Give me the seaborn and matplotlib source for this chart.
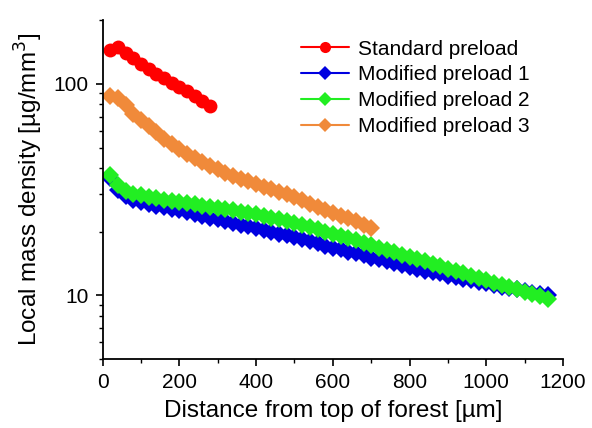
import numpy as np
import pandas as pd
import seaborn as sns
import matplotlib.pyplot as plt
from matplotlib.ticker import MultipleLocator, LogLocator, FuncFormatter, NullFormatter

# values (distance in um, density in ug/mm^3)
std_x = [20, 40, 60, 80, 100, 120, 140, 160, 180, 200, 220, 240, 260, 280]
std_y = [145, 149, 140, 132, 124, 117, 111, 106, 101, 96.5, 92, 87.5, 83, 78.5]

mod_x = list(range(20, 1161, 20))
mod1_y = [36.0, 31.6, 29.5, 28.2, 27.5, 27.0, 26.5, 26.1, 25.6, 25.2,
          24.7, 24.2, 23.8, 23.3, 22.9, 22.4, 22.0, 21.6, 21.2, 20.8,
          20.4, 20.0, 19.6, 19.2, 18.8, 18.4, 18.0, 17.6, 17.2, 16.8,
          16.5, 16.1, 15.8, 15.5, 15.1, 14.8, 14.5, 14.2, 13.9, 13.6,
          13.4, 13.1, 12.9, 12.7, 12.4, 12.2, 12.0, 11.8, 11.6, 11.4,
          11.2, 11.0, 10.8, 10.7, 10.5, 10.3, 10.2, 10.0]
mod2_y = [36.9, 33.1, 31.3, 30.3, 29.8, 29.2, 28.8, 28.3, 27.9, 27.5,
          27.2, 26.9, 26.5, 26.2, 25.9, 25.6, 25.3, 24.9, 24.5, 24.2,
          23.7, 23.3, 22.9, 22.4, 21.9, 21.5, 21.0, 20.5, 20.0, 19.6,
          19.1, 18.6, 18.2, 17.7, 17.3, 16.8, 16.4, 16.0, 15.6, 15.2,
          14.8, 14.5, 14.1, 13.7, 13.4, 13.1, 12.7, 12.4, 12.1, 11.8,
          11.5, 11.2, 10.9, 10.7, 10.4, 10.1, 9.9, 9.6]

mod3_x = list(range(20, 701, 20))
mod3_y = [87.9, 86.1, 79.4, 72.1, 67.6, 63.1, 58.9, 55.0, 51.9, 49.0,
          46.8, 44.7, 42.7, 40.7, 39.4, 38.0, 36.7, 35.6, 34.7, 33.7,
          32.7, 31.8, 30.9, 30.1, 29.2, 28.2, 26.9, 26.1, 25.4, 24.5,
          23.8, 23.1, 22.4, 21.6, 20.9]

series = [
    ("Standard preload", std_x, std_y, "#ff0000", "o"),
    ("Modified preload 1", mod_x, mod1_y, "#0000e0", "D"),
    ("Modified preload 2", mod_x, mod2_y, "#22ee22", "D"),
    ("Modified preload 3", mod3_x, mod3_y, "#f08a3a", "D"),
]

sns.set_style("ticks")
plt.rcParams["font.family"] = ["Liberation Sans", "DejaVu Sans"]
plt.rcParams["text.color"] = "black"
plt.rcParams["axes.labelcolor"] = "black"

fig = plt.figure(figsize=(5.92, 4.28), dpi=100)
ax = fig.add_axes([0.1735, 0.161, 0.7775, 0.792])

for name, xs, ys, col, mk in series:
    df = pd.DataFrame({"x": xs, "y": ys})
    sns.lineplot(data=df, x="x", y="y", ax=ax, color=col, marker=mk,
                 markersize=10 if mk == "o" else 9, markeredgewidth=0,
                 linewidth=1.5, label=name)

ax.set_yscale("log")
ax.set_xlim(0, 1200)
ax.set_ylim(5, 200)
ax.xaxis.set_major_locator(MultipleLocator(200))
ax.xaxis.set_minor_locator(MultipleLocator(100))
ax.yaxis.set_major_locator(LogLocator(base=10))
ax.yaxis.set_minor_locator(LogLocator(base=10, subs=np.arange(2, 10)))
ax.yaxis.set_major_formatter(FuncFormatter(lambda v, p: f"{v:g}"))
ax.yaxis.set_minor_formatter(NullFormatter())

ax.tick_params(axis="both", which="major", direction="out", length=5,
               width=1.2, labelsize=15, colors="black", pad=5)
ax.tick_params(axis="both", which="minor", direction="out", length=3, width=1.0,
               colors="black")
for s in ["left", "bottom"]:
    ax.spines[s].set_linewidth(1.3)
    ax.spines[s].set_color("black")
sns.despine(ax=ax)

ax.set_xlabel("Distance from top of forest [µm]", fontsize=17.5, labelpad=6)
ax.set_ylabel("Local mass density [µg/mm$^3$]", fontsize=17.5, labelpad=6)

ax.legend(loc="upper left", bbox_to_anchor=(0.495, 0.927), bbox_transform=fig.transFigure,
          frameon=False, fontsize=15, handlelength=2.3, handletextpad=0.4,
          labelspacing=0.33, borderaxespad=0, markerscale=0.8)

fig.savefig("out.png", dpi=100)
